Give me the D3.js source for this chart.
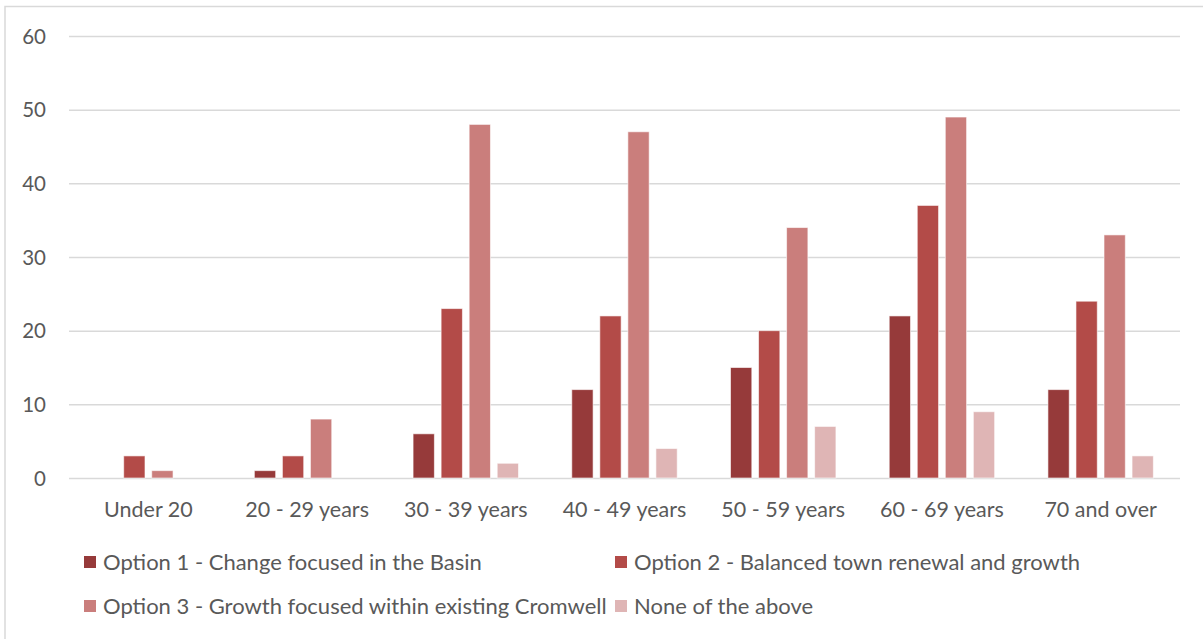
<!DOCTYPE html>
<html>
<head>
<meta charset="utf-8">
<script src="https://cdn.jsdelivr.net/npm/d3@7"></script>
<style>
  html, body { margin: 0; padding: 0; background: #fff; }
  svg { display: block; }
  text { font-family: Lato, "Open Sans", sans-serif; fill: #595959; }
</style>
</head>
<body>
<svg id="chart" width="1203" height="639"></svg>
<script>
// Age groups along the x axis
const categories = ["Under 20", "20 - 29 years", "30 - 39 years", "40 - 49 years", "50 - 59 years", "60 - 69 years", "70 and over"];

// Series names and counts per age group
const seriesNames = [
  "Option 1 - Change focused in the Basin",
  "Option 2 - Balanced town renewal and growth",
  "Option 3 - Growth focused within existing Cromwell",
  "None of the above"
];
const option1 = [0, 1, 6, 12, 15, 22, 12];
const option2 = [3, 3, 23, 22, 20, 37, 24];
const option3 = [1, 8, 48, 47, 34, 49, 33];
const noneOfAbove = [0, 0, 2, 4, 7, 9, 3];

const yTicks = [0, 10, 20, 30, 40, 50, 60];
const colors = ["#963a3a", "#b34b48", "#ca7e7c", "#dfb5b5"];

const seriesValues = [option1, option2, option3, noneOfAbove];

const svg = d3.select("#chart");

// Chart frame (left and top edges visible)
svg.append("rect")
  .attr("x", 5).attr("y", 6.5)
  .attr("width", 1220).attr("height", 660)
  .attr("fill", "none")
  .attr("stroke", "#d9d9d9")
  .attr("stroke-width", 1.5);

const plot = { left: 69, right: 1180, top: 36, bottom: 478 };

const x = d3.scaleBand()
  .domain(categories)
  .range([plot.left, plot.right])
  .paddingInner(0)
  .paddingOuter(0);

const x1 = d3.scaleBand()
  .domain(d3.range(seriesNames.length))
  .range([0, x.bandwidth()])
  .paddingInner(0.24)
  .paddingOuter(0.95);

const y = d3.scaleLinear()
  .domain([0, 60])
  .range([plot.bottom, plot.top]);

// Horizontal gridlines
const yAxis = d3.axisLeft(y)
  .tickValues(yTicks)
  .tickSize(-(plot.right - plot.left))
  .tickPadding(23)
  .tickFormat(d3.format("d"));

const gy = svg.append("g")
  .attr("transform", `translate(${plot.left},0)`)
  .call(yAxis);
gy.select(".domain").remove();
gy.selectAll(".tick line").attr("stroke", "#d9d9d9").attr("stroke-width", 1.5);
gy.selectAll(".tick text")
  .attr("fill", "#595959")
  .style("font-size", "20.5px")
  .attr("dy", "0.35em");

// Bars
const groups = svg.append("g")
  .selectAll("g")
  .data(categories)
  .join("g")
  .attr("transform", d => `translate(${x(d)},0)`);

groups.selectAll("rect")
  .data((c, i) => seriesValues.map((vals, s) => ({ s, v: vals[i] })))
  .join("rect")
  .filter(d => d.v > 0)
  .attr("x", d => x1(d.s))
  .attr("y", d => y(d.v))
  .attr("width", x1.bandwidth())
  .attr("height", d => y(0) - y(d.v))
  .attr("fill", d => colors[d.s])
  .attr("stroke", "#fff")
  .attr("stroke-opacity", 0.6)
  .attr("stroke-width", 1);

// Category axis labels
const xAxis = d3.axisBottom(x).tickSize(0).tickPadding(24);
const gx = svg.append("g")
  .attr("transform", `translate(0,${plot.bottom})`)
  .call(xAxis);
gx.select(".domain").remove();
gx.selectAll(".tick text")
  .attr("fill", "#595959")
  .style("font-size", "21.5px");

// Legend: two rows, two columns
const legendPos = [
  { x: 84, y: 562 }, { x: 615, y: 562 },
  { x: 84, y: 606 }, { x: 615, y: 606 }
];
const legend = svg.append("g")
  .selectAll("g")
  .data(seriesNames)
  .join("g")
  .attr("transform", (d, i) => `translate(${legendPos[i].x},${legendPos[i].y})`);

legend.append("rect")
  .attr("x", 0).attr("y", -6)
  .attr("width", 12).attr("height", 12)
  .attr("fill", (d, i) => colors[i]);

legend.append("text")
  .attr("x", 19)
  .attr("y", 0)
  .attr("dy", "0.35em")
  .style("font-size", "22px")
  .text(d => d);
</script>
</body>
</html>
